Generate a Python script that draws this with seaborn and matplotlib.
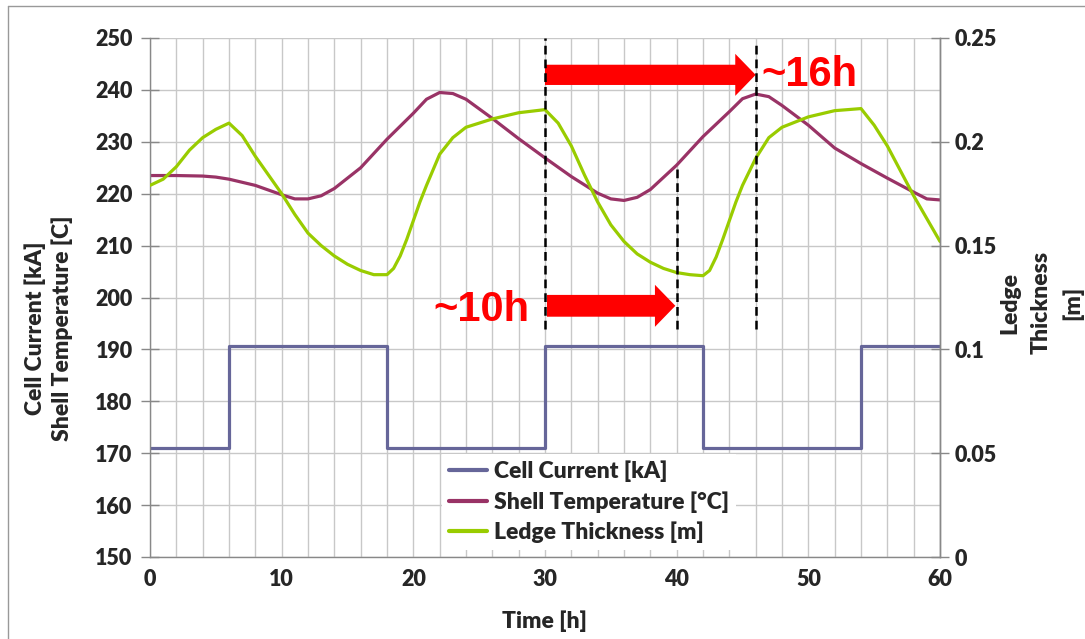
import numpy as np
import pandas as pd
import seaborn as sns
import matplotlib.pyplot as plt
from matplotlib.lines import Line2D

# Series
time_current = [0, 6, 6, 18, 18, 30, 30, 42, 42, 54, 54, 60]
cell_current = [171, 171, 190.7, 190.7, 171, 171, 190.7, 190.7, 171, 171, 190.7, 190.7]

time_temp = [0, 2, 4, 5, 6, 8, 10, 11, 12, 13, 14, 16, 18, 20, 21, 22, 23, 24, 26, 28, 30,
             32, 34, 35, 36, 37, 38, 40, 42, 44, 45, 46, 47, 48, 50, 52, 54, 56, 58, 59, 60]
shell_temp = [223.5, 223.5, 223.4, 223.2, 222.8, 221.6, 219.8, 219.0, 219.0, 219.6, 221.0,
              225.0, 230.5, 235.5, 238.2, 239.5, 239.3, 238.2, 234.5, 230.6, 226.9,
              223.3, 220.1, 219.0, 218.7, 219.3, 220.8, 225.5, 231.0, 235.8, 238.3,
              239.2, 238.7, 237.0, 233.2, 228.8, 225.8, 223.0, 220.3, 219.0, 218.8]

time_ledge = [0, 1, 2, 3, 4, 5, 6, 7, 8, 9, 10, 11, 12, 13, 14, 15, 16, 17, 18,
              18.5, 19, 19.5, 20, 20.5, 21, 22, 23, 24, 26, 28, 30,
              31, 32, 33, 34, 35, 36, 37, 38, 39, 40, 41, 42,
              42.5, 43, 43.5, 44, 44.5, 45, 46, 47, 48, 50, 52, 54,
              55, 56, 57, 58, 59, 60]
ledge = [0.179, 0.182, 0.188, 0.196, 0.202, 0.206, 0.209, 0.203, 0.193, 0.184, 0.175,
         0.165, 0.156, 0.150, 0.145, 0.141, 0.138, 0.136, 0.136,
         0.139, 0.145, 0.153, 0.162, 0.171, 0.179, 0.194, 0.202, 0.207, 0.211, 0.214, 0.2155,
         0.209, 0.198, 0.184, 0.171, 0.160, 0.152, 0.146, 0.142, 0.139, 0.137, 0.136, 0.1355,
         0.138, 0.1445, 0.153, 0.162, 0.171, 0.179, 0.192, 0.202, 0.207, 0.212, 0.215, 0.216,
         0.208, 0.198, 0.186, 0.174, 0.163, 0.152]

left_ticks = [150, 160, 170, 180, 190, 200, 210, 220, 230, 240, 250]
right_ticks = [0, 0.05, 0.1, 0.15, 0.2, 0.25]
right_labels = ["0", "0.05", "0.1", "0.15", "0.2", "0.25"]
x_ticks = [0, 10, 20, 30, 40, 50, 60]

c_current = "#666699"
c_temp = "#993366"
c_ledge = "#99cc00"

sns.set_style("white")
plt.rcParams['font.family'] = ['Lato', 'DejaVu Sans']
plt.rcParams['font.weight'] = 'heavy'
plt.rcParams['axes.labelweight'] = 'heavy'

df_cur = pd.DataFrame({'t': time_current, 'v': cell_current})
df_temp = pd.DataFrame({'t': time_temp, 'v': shell_temp})
df_ledge = pd.DataFrame({'t': time_ledge, 'v': ledge})

fig = plt.figure(figsize=(10.85, 6.39), dpi=100)
ax = fig.add_axes([150 / 1085, 1 - 557 / 639, 790 / 1085, 519 / 639])
ax2 = ax.twinx()

sns.lineplot(data=df_cur, x='t', y='v', ax=ax, color=c_current, lw=2.3,
             estimator=None, sort=False)
sns.lineplot(data=df_temp, x='t', y='v', ax=ax, color=c_temp, lw=2.3,
             estimator=None, sort=False)
sns.lineplot(data=df_ledge, x='t', y='v', ax=ax2, color=c_ledge, lw=2.3,
             estimator=None, sort=False)

ax.set_xlim(0, 60)
ax.set_ylim(150, 250)
ax2.set_ylim(0, 0.25)
ax.set_xticks(x_ticks)
ax.set_xticks(np.arange(0, 61, 2), minor=True)
ax.set_yticks(left_ticks)
ax2.set_yticks(right_ticks)
ax2.set_yticklabels(right_labels)

ax.grid(True, which='both', axis='x', color='#c8c8c8', lw=1)
ax.grid(True, which='major', axis='y', color='#c8c8c8', lw=1)
ax.set_axisbelow(True)
ax2.grid(False)

for a in (ax, ax2):
    for s in a.spines.values():
        s.set_color('#888888')
        s.set_linewidth(1)
    a.spines['top'].set_visible(False)
ax2.spines['left'].set_visible(False)
ax2.spines['bottom'].set_visible(False)

ax.tick_params(axis='both', which='major', direction='inout', length=13, color='#888888',
               labelsize=15.5, width=1)
ax.tick_params(axis='y', pad=6)
ax.tick_params(axis='x', pad=2)
ax.tick_params(axis='x', which='minor', length=0)
ax2.tick_params(axis='y', direction='inout', length=13, color='#888888', labelsize=15.5,
                width=1, pad=4)

ax.set_xlabel('Time [h]', fontsize=16.5, labelpad=15)
ax.set_ylabel('Cell Current [kA]\nShell Temperature [C]', fontsize=16.5, linespacing=1.3)
ax.yaxis.set_label_coords(-0.098, 0.44)
ax2.set_ylabel('Ledge\nThickness\n[m]', fontsize=16.5, linespacing=1.6)
ax2.yaxis.set_label_coords(1.075, 0.49)

# dashed markers and arrows (in left-axis units)
tr = ax.transData
ax2.plot([30, 30], [194, 250], transform=tr, color='black', lw=1.8, ls=(0, (3.5, 2)))
ax2.plot([46, 46], [194, 249.5], transform=tr, color='black', lw=1.8, ls=(0, (3.5, 2)))
ax2.plot([40, 40], [194, 225], transform=tr, color='black', lw=1.8, ls=(0, (3.5, 2)))

ax2.arrow(30, 242.9, 16, 0, width=3.9, head_width=8.1, head_length=1.55,
          length_includes_head=True, color='red', transform=tr, lw=0)
ax2.arrow(30.15, 198.4, 9.75, 0, width=4.2, head_width=8.1, head_length=1.55,
          length_includes_head=True, color='red', transform=tr, lw=0)
ax2.text(46.4, 242.9, '~16h', transform=tr, color='red', fontsize=30,
         fontfamily='Liberation Sans', fontweight='bold', ha='left', va='center')
ax2.text(28.8, 197.6, '~10h', transform=tr, color='red', fontsize=30,
         fontfamily='Liberation Sans', fontweight='bold', ha='right', va='center')

handles = [Line2D([], [], color=c_current, lw=3),
           Line2D([], [], color=c_temp, lw=3),
           Line2D([], [], color=c_ledge, lw=3)]
labels = ['Cell Current [kA]', 'Shell Temperature [°C]', 'Ledge Thickness [m]']
leg = ax2.legend(handles, labels, loc='upper left', borderaxespad=0,
                 bbox_to_anchor=((442 - 150) / 790, (557 - 454) / 519),
                 frameon=True, fontsize=16.5, handlelength=1.65, handletextpad=0.3,
                 labelspacing=0.37, borderpad=0.3, fancybox=False)
leg.get_frame().set_edgecolor('none')
leg.get_frame().set_facecolor('white')
leg.get_frame().set_alpha(1)

# outer chart border (left and top edges visible)
fig.add_artist(Line2D([8 / 1085, 8 / 1085], [0, 1 - 6 / 639], color='#999999', lw=1))
fig.add_artist(Line2D([8 / 1085, 1], [1 - 6 / 639, 1 - 6 / 639], color='#999999', lw=1))

fig.savefig('out.png', dpi=100)
